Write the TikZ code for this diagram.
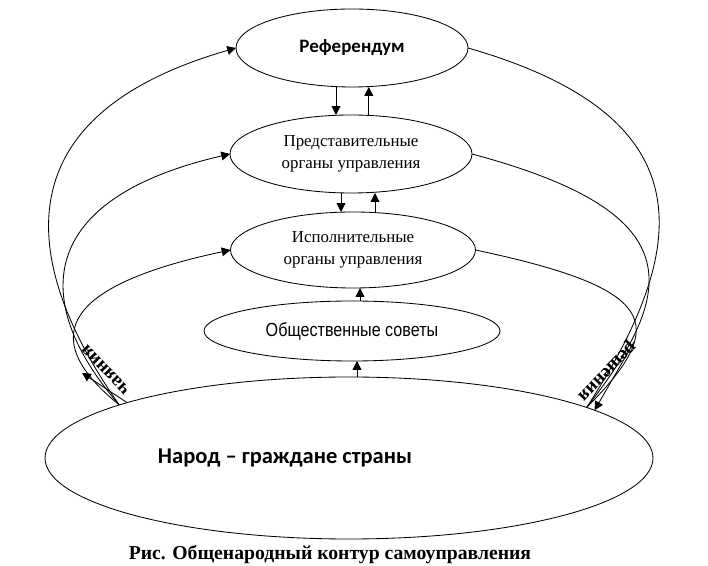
\documentclass[tikz,border=0pt]{standalone}
\usepackage{fontspec}
\setmainfont{Liberation Serif}
\newfontfamily\calibfont{Carlito}
\newfontfamily\narrowfont[FakeStretch=0.85]{Liberation Sans}
\usetikzlibrary{arrows.meta, shapes.geometric, calc}
\tikzset{
  every picture/.style={line width=0.6pt},
  oval/.style={draw, ellipse, inner sep=0pt, outer sep=0pt, align=center},
  arr/.style={-{Triangle[length=2.2mm, width=2.2mm]}},
  serif/.style={font=\fontsize{12}{15.5}\selectfont},
  lbl/.style={font=\bfseries\fontsize{13.5}{14}\selectfont, inner sep=0pt},
}
\begin{document}
\begin{tikzpicture}
  \useasboundingbox (0,0) rectangle (17.7,14.15);
  % ovals, top to bottom
  \node[oval, minimum width=5.8cm, minimum height=1.95cm, font=\calibfont\bfseries\fontsize{13.5}{16}\selectfont] (ref) at (8.8,12.95) {Референдум};
  \node[oval, serif, minimum width=6.05cm, minimum height=1.95cm] (pred) at (8.775,10.3) {Представительные\\органы управления};
  \node[oval, serif, minimum width=6.125cm, minimum height=1.9cm] (isp) at (8.825,7.9) {Исполнительные\\органы управления};
  \node[oval, minimum width=7.4cm, minimum height=1.5cm, font=\narrowfont\fontsize{13.5}{16}\selectfont] (obsh) at (8.8,5.875) {Общественные советы};
  \node[oval, minimum width=15.2cm, minimum height=4.05cm] (nar) at (8.725,2.7) {};
  \node[font=\calibfont\bfseries\fontsize{16}{19}\selectfont] (nart) at ([xshift=-1.6cm]nar.center) {Народ – граждане страны};
  \node[anchor=base, font=\bfseries\fontsize{14}{16}\selectfont] (cap) at (8.25,0.16) {Рис. Общенародный контур самоуправления};

  % vertical links
  \draw[arr] ([xshift=-4mm]ref.south) -- ([xshift=-4mm]ref.south |- pred.north);
  \draw[arr] ([xshift=4.2mm]ref.south |- pred.north) -- ([xshift=4.2mm]ref.south);
  \draw[arr] ([xshift=-2.5mm]pred.south) -- ([xshift=-2.5mm]pred.south |- isp.north);
  \draw[arr] ([xshift=6mm]pred.south |- isp.north) -- ([xshift=6mm]pred.south);
  \draw[arr] ([xshift=2mm]obsh.north) -- ([xshift=2mm]obsh.north |- isp.south);
  \draw[arr] ([xshift=1.25mm]obsh.south |- nar.north) -- ([xshift=1.25mm]obsh.south);

  % left loop: from the people up
  \draw[arr] (nar.167) .. controls +(125:4.5) and +(196:6.0) .. (ref.west);
  \draw[arr] (nar.167) .. controls +(131:3.4) and +(193:5.0) .. (pred.west);
  \draw[arr] (nar.167) .. controls +(141:2.8) and +(192:4.1) .. (isp.west);
  \coordinate (ca) at (2.05,4.83);
  \draw[arr] (nar.166) -- (ca);
  \node[lbl, rotate=134] (lch) at (2.64,4.9) {чаяния};

  % right loop: back down to the people
  \draw (ref.east) .. controls +(344:6.3) and +(57:4.7) .. (nar.12);
  \draw (pred.east) .. controls +(345:5.6) and +(52:3.8) .. (nar.12);
  \draw (isp.east) .. controls +(348:4.6) and +(45:3.0) .. (nar.12);
  \coordinate (cr) at (15.85,5.6);
  \draw[arr] (cr) -- (nar.11);
  \node[lbl, rotate=226] (lre) at (15.14,4.9) {решения};
\end{tikzpicture}
\end{document}
